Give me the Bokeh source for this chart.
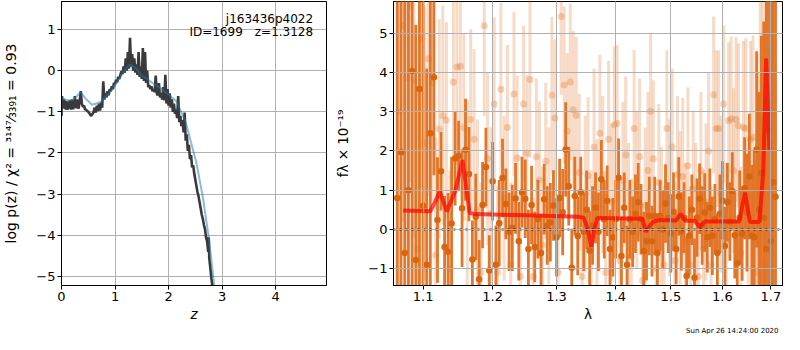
import numpy as np
from bokeh.plotting import figure
from bokeh.layouts import row
from bokeh.models import Range1d, FixedTicker, PrintfTickFormatter, Label, Title
from bokeh.embed import file_html
from bokeh.resources import INLINE

# ---------------- left panel: p(z) ----------------
pz_z = [0.00, 0.01, 0.02, 0.03, 0.04, 0.05, 0.06, 0.07, 0.08, 0.09, 0.10, 0.11, 0.12, 0.13, 0.14,
        0.15, 0.16, 0.17, 0.18, 0.19, 0.20, 0.21, 0.22, 0.23, 0.24, 0.25, 0.26, 0.27, 0.28, 0.29,
        0.30, 0.32, 0.34, 0.36, 0.38, 0.40, 0.42, 0.44, 0.46, 0.48, 0.50, 0.52, 0.55, 0.58, 0.60,
        0.62, 0.64, 0.66, 0.68, 0.70, 0.72, 0.74, 0.76, 0.78, 0.80, 0.82, 0.84, 0.86, 0.88, 0.90,
        0.92, 0.94, 0.96, 0.98, 1.00, 1.02, 1.04, 1.06, 1.08, 1.10, 1.12, 1.14, 1.16, 1.18, 1.20,
        1.22, 1.24, 1.26, 1.28, 1.30, 1.32, 1.34, 1.36, 1.38, 1.40, 1.42, 1.44, 1.46, 1.48, 1.50,
        1.52, 1.54, 1.56, 1.58, 1.60, 1.62, 1.64, 1.66, 1.68, 1.70, 1.72, 1.74, 1.76, 1.78, 1.80,
        1.82, 1.84, 1.86, 1.88, 1.90, 1.92, 1.94, 1.96, 1.98, 2.00, 2.02, 2.04, 2.06, 2.08, 2.10,
        2.12, 2.14, 2.16, 2.18, 2.20, 2.22, 2.24, 2.26, 2.28, 2.30, 2.32, 2.34, 2.36, 2.38, 2.40,
        2.42, 2.44, 2.46, 2.48, 2.50, 2.52, 2.54, 2.56, 2.58, 2.60, 2.62, 2.64, 2.66, 2.68, 2.70,
        2.72, 2.74, 2.75, 2.76, 2.78, 2.80, 2.84]
pz_logp = [-1.10, -0.62, -0.90, -0.78, -0.92, -0.70, -0.88, -0.80, -0.95, -0.74, -0.90, -0.82, -0.95, -0.76, -0.90,
           -0.72, -0.92, -0.80, -0.95, -0.70, -0.88, -0.78, -0.94, -0.72, -0.90, -0.62, -0.88, -0.76, -0.92, -0.70,
           -0.86, -0.92, -0.72, -0.50, -0.80, -0.88, -0.85, -0.94, -0.95, -0.98, -1.00, -1.03, -1.10, -1.05, -1.00,
           -0.90, -1.02, -0.85, -0.98, -0.80, -0.97, -0.78, -0.90, -0.26, -0.70, -0.55, -0.65, -0.50, -0.60, -0.45,
           -0.50, -0.38, -0.45, -0.30, -0.33, -0.22, -0.28, -0.15, -0.20, -0.10, -0.02, -0.08, 0.10, -0.05, 0.30,
           0.00, 0.45, 0.05, 0.80, 0.10, 0.40, 0.00, 0.30, -0.05, 0.15, -0.10, 0.45, -0.15, 0.10, -0.20,
           0.55, -0.25, 0.45, -0.30, 0.00, -0.40, -0.35, -0.45, -0.38, -0.50, -0.45, -0.52, -0.12, -0.55, -0.60,
           -0.30, -0.65, -0.55, -0.70, -0.40, -0.72, -0.10, -0.80, -0.45, -0.85, -0.55, -0.90, -0.70, -1.00, -0.80,
           -1.05, -0.95, -1.15, -0.62, -1.25, -1.10, -1.35, -1.20, -1.50, -1.02, -1.70, -1.55, -1.95, -1.80, -2.15,
           -2.05, -2.35, -2.30, -2.50, -2.65, -2.80, -2.95, -3.05, -3.20, -3.35, -3.50, -3.60, -3.75, -3.85, -4.05,
           -4.15, -4.40, -4.05, -4.55, -4.80, -5.05, -5.45]

sm_z = [0.00, 0.10, 0.20, 0.30, 0.36, 0.45, 0.57, 0.65, 0.75, 0.87, 0.95, 1.05, 1.15, 1.25, 1.30,
        1.40, 1.50, 1.60, 1.70, 1.80, 1.90, 2.00, 2.15, 2.32, 2.40, 2.52, 2.64, 2.76, 2.86]
sm_logp = [-0.66, -0.72, -0.72, -0.60, -0.52, -0.68, -0.83, -0.80, -0.74, -0.56, -0.45, -0.25, -0.05, 0.12, 0.15,
           0.04, -0.12, -0.20, -0.30, -0.38, -0.48, -0.58, -0.75, -1.25, -1.65, -2.24, -3.07, -4.14, -5.30]

z_ticks = [0, 1, 2, 3, 4]
logp_ticks = [-5, -4, -3, -2, -1, 0, 1]

# ---------------- right panel: spectrum ----------------
g1_wave = [1.065, 1.070, 1.075, 1.080, 1.085, 1.090, 1.095, 1.100, 1.105, 1.110,
           1.115, 1.120, 1.125, 1.130, 1.135, 1.140, 1.145, 1.150, 1.155, 1.160,
           1.165, 1.170, 1.175, 1.180, 1.185, 1.190, 1.195, 1.200, 1.205, 1.210,
           1.215, 1.220, 1.225, 1.230, 1.235, 1.240, 1.245, 1.250, 1.255, 1.260,
           1.265, 1.270, 1.275, 1.280, 1.285, 1.290, 1.295, 1.300, 1.305, 1.310,
           1.315, 1.320, 1.325, 1.330, 1.335, 1.340, 1.345, 1.350, 1.355, 1.360,
           1.365, 1.370, 1.375, 1.380, 1.385, 1.390, 1.395, 1.400, 1.405, 1.410,
           1.415, 1.420, 1.425, 1.430, 1.435, 1.440, 1.445, 1.450, 1.455, 1.460,
           1.465, 1.470, 1.475, 1.480, 1.485, 1.490, 1.495, 1.500, 1.505, 1.510,
           1.515, 1.520, 1.525, 1.530, 1.535, 1.540, 1.545, 1.550, 1.555, 1.560,
           1.565, 1.570, 1.575, 1.580, 1.585, 1.590, 1.595, 1.600, 1.605, 1.610,
           1.615, 1.620, 1.625, 1.630, 1.635, 1.640, 1.645, 1.650, 1.655, 1.660,
           1.665, 1.670, 1.675, 1.680, 1.685, 1.690, 1.695, 1.700, 1.705, 1.710]
g1_flux = [0.80, 1.97, -0.60, 1.00, 4.04, -0.78, 3.58, 0.60, -0.90, 2.45,
           3.88, 0.24, 1.48, -0.45, -0.57, 0.15, 1.81, 1.87, 0.54, 2.03,
           1.41, -0.77, 0.32, -1.27, 0.62, 1.59, -1.05, 1.23, -0.90, 0.16,
           1.31, 0.65, -0.06, 0.04, 0.79, -0.30, 0.95, 0.78, -0.50, 0.62,
           -0.45, 0.26, -0.60, 0.77, 0.10, 0.18, 0.61, -0.20, 0.80, 0.44,
           2.04, 1.10, -0.98, 0.85, -0.17, 0.95, -0.06, 0.50, -0.54, 0.10,
           0.55, -0.06, 1.28, 0.26, 0.73, -0.50, -0.20, 0.26, 1.32, -0.68,
           0.55, -0.90, 0.26, -0.06, 0.40, 0.69, 0.26, -0.55, -0.30, 0.34,
           -0.30, 0.34, -0.60, 0.35, 0.00, 0.66, 0.30, -0.10, 0.45, -0.50,
           0.84, -0.05, 0.30, -1.19, -0.16, 0.50, -1.23, 0.30, 0.78, 0.10,
           0.43, -0.20, 0.55, -0.16, 0.26, -0.60, 0.40, 0.74, -0.42, 0.69,
           0.20, 0.97, -0.15, -0.86, 0.30, -0.11, 1.05, 0.43, 1.35, -0.16,
           -0.20, 2.04, 0.50, 1.44, 0.30, -0.50, 2.53, -0.30, 1.20, 0.83]
g1_err = [8.0, 8.0, 7.0, 6.5, 7.0, 6.0, 7.0, 6.0, 5.0, 4.0,
          2.5, 1.6, 1.0, 1.3, 1.5, 1.7, 1.2, 0.9, 1.5, 1.3,
          1.2, 1.0, 1.1, 1.0, 1.1, 1.0, 0.9, 1.0, 1.0, 1.1,
          1.0, 0.9, 1.0, 1.1, 0.9, 1.0, 0.9, 1.0, 1.0, 1.0,
          0.9, 1.0, 1.0, 0.9, 1.0, 1.0, 0.9, 1.0, 1.0, 1.1,
          1.2, 1.0, 1.0, 1.0, 1.0, 0.9, 1.0, 1.0, 1.0, 1.0,
          0.9, 1.0, 1.0, 1.0, 0.9, 1.0, 1.0, 1.0, 1.0, 1.0,
          0.9, 1.0, 1.0, 0.9, 1.0, 1.0, 0.9, 1.0, 1.0, 1.0,
          0.9, 1.0, 1.0, 0.9, 1.0, 1.0, 0.9, 1.0, 1.0, 0.9,
          1.0, 1.0, 0.9, 1.0, 1.0, 0.9, 1.0, 1.0, 0.9, 1.0,
          1.0, 0.9, 1.0, 1.0, 0.9, 1.0, 1.0, 1.0, 1.0, 1.0,
          1.0, 1.0, 1.1, 1.1, 1.2, 1.2, 1.3, 1.5, 1.6, 1.8,
          2.2, 2.5, 3.0, 3.5, 5.0, 7.0, 8.0, 8.0, 9.0, 9.0]

g2_wave = [1.0675, 1.0725, 1.0775, 1.0825, 1.0875, 1.0925, 1.0975, 1.1025, 1.1075, 1.1125,
           1.1175, 1.1225, 1.1275, 1.1325, 1.1375, 1.1425, 1.1475, 1.1525, 1.1575, 1.1625,
           1.1675, 1.1725, 1.1775, 1.1825, 1.1875, 1.1925, 1.1975, 1.2025, 1.2075, 1.2125,
           1.2175, 1.2225, 1.2275, 1.2325, 1.2375, 1.2425, 1.2475, 1.2525, 1.2575, 1.2625,
           1.2675, 1.2725, 1.2775, 1.2825, 1.2875, 1.2925, 1.2975, 1.3025, 1.3075, 1.3125,
           1.3175, 1.3225, 1.3275, 1.3325, 1.3375, 1.3425, 1.3475, 1.3525, 1.3575, 1.3625,
           1.3675, 1.3725, 1.3775, 1.3825, 1.3875, 1.3925, 1.3975, 1.4025, 1.4075, 1.4125,
           1.4175, 1.4225, 1.4275, 1.4325, 1.4375, 1.4425, 1.4475, 1.4525, 1.4575, 1.4625,
           1.4675, 1.4725, 1.4775, 1.4825, 1.4875, 1.4925, 1.4975, 1.5025, 1.5075, 1.5125,
           1.5175, 1.5225, 1.5275, 1.5325, 1.5375, 1.5425, 1.5475, 1.5525, 1.5575, 1.5625,
           1.5675, 1.5725, 1.5775, 1.5825, 1.5875, 1.5925, 1.5975, 1.6025, 1.6075, 1.6125,
           1.6175, 1.6225, 1.6275, 1.6325, 1.6375, 1.6425, 1.6475, 1.6525, 1.6575, 1.6625,
           1.6675, 1.6725, 1.6775, 1.6825, 1.6875, 1.6925, 1.6975, 1.7025]
g2_flux = [3.00, 5.20, 3.88, 5.69, 3.80, -0.50, 4.86, 2.20, 4.35, 3.73,
           -0.65, 2.56, 2.90, 2.78, -1.00, 3.76, 4.14, 4.16, 2.60, 0.90,
           2.80, 2.30, 0.50, -1.10, 5.19, 1.80, 0.40, 3.20, -1.10, 3.57,
           0.80, 2.60, -0.90, 3.45, 1.82, -1.20, 3.20, 1.94, 3.82, -1.20,
           1.85, 1.26, -0.40, 1.74, 0.60, 3.42, 2.84, -1.10, 5.43, 3.68,
           2.50, 3.76, 3.05, 2.91, 1.45, -1.20, 0.90, 1.37, -0.50, 2.10,
           0.30, 2.45, 1.40, -1.10, 2.30, 0.70, 2.67, 2.70, -0.80, 1.25,
           1.90, 0.20, -0.70, 2.57, 1.00, 1.85, -1.30, 0.60, 1.50, 3.01,
           1.80, -1.00, 1.20, 0.10, -0.90, 2.57, 0.80, 2.10, -0.80, 1.40,
           0.50, 1.35, -0.30, 1.62, -0.90, 1.03, 0.20, -1.20, 1.50, -0.50,
           0.70, 2.00, -0.90, 3.43, 2.57, 2.57, 0.90, 3.20, -0.30, 2.77,
           2.82, 1.50, 2.80, 2.64, -0.60, 2.60, 2.57, 0.00, 2.30, 2.35,
           -1.10, 1.00, 2.75, 3.40, -0.90, 4.55, -0.50, 3.00]
g2_err = [5.0, 5.0, 4.5, 4.5, 4.0, 4.0, 3.8, 3.5, 3.5, 3.0,
          3.0, 2.8, 2.8, 2.5, 2.5, 2.5, 2.5, 2.4, 2.4, 2.4,
          2.3, 2.3, 2.3, 2.3, 2.3, 2.2, 2.2, 2.2, 2.2, 2.2,
          2.1, 2.1, 2.1, 2.1, 2.1, 2.1, 2.0, 2.0, 2.0, 2.0,
          2.0, 2.0, 2.0, 2.0, 2.0, 2.0, 2.0, 2.0, 2.0, 2.0,
          2.0, 2.0, 2.0, 2.0, 2.0, 2.0, 2.0, 2.0, 2.0, 2.0,
          2.0, 2.0, 2.0, 2.0, 2.0, 2.0, 2.0, 2.0, 2.0, 2.0,
          2.0, 2.0, 2.0, 2.0, 2.0, 2.0, 2.0, 2.0, 2.0, 2.0,
          2.0, 2.0, 2.0, 2.0, 2.0, 2.0, 2.0, 2.0, 2.0, 2.0,
          2.0, 2.0, 2.0, 2.0, 2.0, 2.0, 2.0, 2.0, 2.0, 2.0,
          2.0, 2.0, 2.0, 2.0, 2.0, 2.0, 2.0, 2.0, 2.0, 2.0,
          2.1, 2.1, 2.1, 2.1, 2.2, 2.2, 2.3, 2.4, 2.5, 2.6,
          2.8, 3.0, 3.2, 3.5, 4.0, 4.5, 5.0, 5.0]

model_wave = [1.073, 1.110, 1.1235, 1.133, 1.145, 1.1556, 1.166, 1.175, 1.250, 1.337,
              1.345, 1.352, 1.3577, 1.363, 1.368, 1.4475, 1.4535, 1.4625, 1.4679, 1.480,
              1.510, 1.5187, 1.527, 1.546, 1.555, 1.565, 1.634, 1.646, 1.656, 1.676,
              1.684, 1.690, 1.697]
model_flux = [0.48, 0.46, 0.96, 0.46, 0.97, 1.77, 0.42, 0.39, 0.36, 0.32,
              0.30, 0.00, -0.44, 0.00, 0.29, 0.27, -0.06, 0.12, 0.20, 0.24,
              0.23, 0.40, 0.22, 0.22, 0.06, 0.20, 0.20, 0.94, 0.19, 0.19,
              1.50, 4.36, 2.00]

wave_ticks = [1.1, 1.2, 1.3, 1.4, 1.5, 1.6, 1.7]
flux_ticks = [-1, 0, 1, 2, 3, 4, 5]

FONT = "DejaVu Sans"
ORANGE = "#e07020"


def minus(v, fmt):
    s = fmt.format(v)
    return s.replace("-", "\u2212")


def style(p):
    p.outline_line_color = "black"
    p.outline_line_width = 1
    p.outline_line_alpha = 1
    for ax in (p.xaxis[0], p.yaxis[0]):
        ax.axis_line_color = "black"
        ax.major_tick_line_color = "black"
        ax.major_tick_out = 4
        ax.major_tick_in = 0
        ax.minor_tick_line_color = None
        ax.major_label_text_font = FONT
        ax.major_label_text_font_size = "13px"
        ax.major_label_text_color = "black"
        ax.axis_label_text_font = FONT
        ax.axis_label_text_font_size = "13.5px"
        ax.axis_label_text_font_style = "normal"
        ax.axis_label_text_color = "black"
        ax.major_label_standoff = 2
    for g in (p.xgrid[0], p.ygrid[0]):
        g.grid_line_color = "#b0b0b0"
        g.grid_line_width = 1
        g.grid_line_alpha = 1


# ---------- left figure ----------
p1 = figure(width=332, height=334, output_backend="svg", toolbar_location=None,
            x_range=Range1d(0, 4.95), y_range=Range1d(-5.22, 1.68),
            min_border_left=61, min_border_right=6, min_border_top=1, min_border_bottom=40)
style(p1)
p1.xaxis.ticker = FixedTicker(ticks=z_ticks)
p1.yaxis.ticker = FixedTicker(ticks=logp_ticks)
p1.xgrid.ticker = FixedTicker(ticks=z_ticks)
p1.ygrid.ticker = FixedTicker(ticks=logp_ticks)
p1.yaxis.major_label_overrides = {v: minus(v, "{:d}") for v in logp_ticks}
p1.xaxis.axis_label = "z"
p1.xaxis.axis_label_text_font_style = "italic"
p1.yaxis.axis_label = "log p(z) / \u03c7\u00b2 = \u00b3\u00b9\u2074\u2077\u2044\u2083\u2083\u2089\u2081 = 0.93"
p1.yaxis.axis_label_text_font_size = "14px"
p1.yaxis.axis_label_standoff = 14
p1.xaxis.axis_label_standoff = 2

p1.line(pz_z, pz_logp, line_color="#3a3a3a", line_width=2.6)
p1.line(sm_z, sm_logp, line_color="#1f77b4", line_alpha=0.5, line_width=2)

p1.add_layout(Label(x=4.70, y=1.26, text="j163436p4022", text_align="right", text_baseline="middle",
                    text_font=FONT, text_font_size="12px", text_color="black"))
p1.add_layout(Label(x=4.70, y=0.93, text="ID=1699\u2003z=1.3128", text_align="right",
                    text_baseline="middle", text_font=FONT, text_font_size="12px", text_color="black"))

# ---------- right figure ----------
p2 = figure(width=452, height=334, output_backend="svg", toolbar_location=None,
            x_axis_type="log", x_range=Range1d(1.06, 1.725), y_range=Range1d(-1.43, 5.81),
            min_border_left=51, min_border_right=2, min_border_top=1, min_border_bottom=40)
style(p2)
p2.xaxis.ticker = FixedTicker(ticks=wave_ticks)
p2.xgrid.ticker = FixedTicker(ticks=wave_ticks)
p2.xaxis.formatter = PrintfTickFormatter(format="%.1f")
p2.yaxis.ticker = FixedTicker(ticks=flux_ticks)
p2.ygrid.ticker = FixedTicker(ticks=flux_ticks)
p2.yaxis.major_label_overrides = {v: minus(v, "{:d}") for v in flux_ticks}
p2.xaxis.axis_label = "\u03bb"
p2.xaxis.axis_label_standoff = 2
p2.yaxis.axis_label = "f\u03bb \u00d7 10\u207b\u00b9\u2079"
p2.yaxis.axis_label_standoff = 14
p2.xgrid.level = "guide"
p2.ygrid.level = "guide"

g2w = np.array(g2_wave); g2f = np.array(g2_flux); g2e = np.array(g2_err)
g1w = np.array(g1_wave); g1f = np.array(g1_flux); g1e = np.array(g1_err)

p2.segment(g2w, g2f - g2e, g2w, g2f + g2e, line_color=ORANGE, line_alpha=0.25, line_width=3)
p2.scatter(g2w, g2f, size=7, fill_color=ORANGE, fill_alpha=0.3, line_color=None)
p2.segment(g1w, g1f - g1e, g1w, g1f + g1e, line_color=ORANGE, line_alpha=0.95, line_width=2.8)
p2.scatter(g1w, g1f, size=6.5, fill_color="#d96510", line_color=None)
p2.line(model_wave, model_flux, line_color="red", line_alpha=0.7, line_width=4)
p2.line([1.06, 1.725], [0, 0], line_color="black", line_width=2, line_dash="2 4", line_alpha=0.85)

p2.add_layout(Title(text="Sun Apr 26 14:24:00 2020", align="right", text_font=FONT,
                    text_font_size="7px", text_font_style="normal", text_color="black",
                    standoff=0, offset=4), "below")

layout = row(p1, p2)
open("out.html", "w").write(file_html(layout, INLINE))
